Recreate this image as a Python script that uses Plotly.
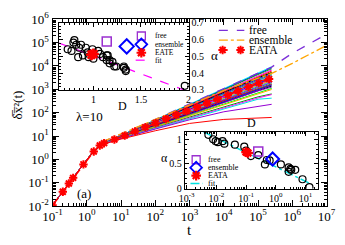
import plotly.graph_objects as go

# ---------------- main panel data ----------------
t_early = [0.1, 0.2, 0.3, 0.5, 0.8, 1.2, 1.7, 2.3]
msd_early = [0.011, 0.044, 0.098, 0.27, 0.63, 1.35, 2.3, 3.6]

t_late = [3, 10, 100, 1e3, 1e4, 1e5, 2.5e5]
traj_values = [
    [5.0, 10.7, 50, 235, 1100, 5100, 9300],
    [4.9, 10.5, 48, 220, 1000, 4700, 8400],
    [4.8, 10.4, 46, 210, 950, 4300, 7600],
    [4.8, 10.4, 45, 198, 863, 3770, 6760],
    [4.8, 10.2, 44, 190, 800, 3400, 6000],
    [4.8, 10.1, 42, 176, 733, 3050, 5400],
    [4.7, 10.0, 41, 180, 760, 3100, 5200],
    [4.8, 10.0, 40, 165, 680, 2750, 4800],
    [4.8, 9.9, 39, 157, 624, 2480, 4300],
    [4.7, 9.7, 38, 160, 640, 2400, 4000],
    [4.8, 9.8, 38, 148, 575, 2250, 3850],
    [4.8, 9.6, 37, 139, 530, 2010, 3430],
    [4.7, 9.5, 36, 142, 560, 2100, 3300],
    [4.8, 9.5, 35, 131, 490, 1820, 3050],
    [4.8, 9.4, 34, 124, 451, 1640, 2730],
    [4.7, 9.3, 34, 128, 470, 1600, 2600],
    [4.8, 9.3, 33, 117, 415, 1480, 2450],
    [4.8, 9.2, 32, 110, 383, 1330, 2180],
    [4.7, 9.1, 31, 112, 400, 1380, 2100],
    [4.8, 9.1, 31, 104, 352, 1200, 1950],
    [4.8, 9.0, 30, 98, 326, 1080, 1740],
    [4.7, 9.0, 30, 102, 330, 1050, 1600],
    [4.8, 8.9, 29, 93, 300, 970, 1550],
    [4.8, 8.8, 28, 88, 277, 877, 1387],
    [4.7, 8.7, 27, 85, 275, 860, 1250],
    [4.8, 8.6, 26, 78, 235, 700, 1100],
    [4.8, 8.5, 25, 74, 217, 641, 986],
    [4.7, 8.3, 23, 65, 180, 480, 640],
    [4.7, 8.2, 22, 60, 165, 430, 600],
    [4.6, 8.0, 21, 55, 150, 380, 420],
    [4.6, 8.0, 20, 50, 110, 190, 230],
    [4.5, 7.5, 17, 35, 52, 60, 63],
]
traj_colors = [
    "#00ffff", "#0000ff", "#00c000", "#ff00ff", "#ff0000", "#ffa500", "#000000",
    "#0000ff", "#00ff00", "#9400d3", "#00ffff", "#bc8f8f", "#ff0000", "#0000ff",
    "#008b00", "#ff00ff", "#ffa500", "#8b0000", "#40e0d0", "#7200ff", "#00c000",
    "#ff0000", "#0000ff", "#000000", "#9400d3", "#00ff00", "#ffa500", "#00a000",
    "#ff00ff", "#00e5e5", "#9400d3", "#ff0000",
]

t_eata = [0.1, 0.2, 0.3, 0.4, 0.8, 1.6, 2.4, 3.2, 6.4, 12.8, 25.6, 51.2, 102.4,
          204.8, 409.6, 819.2, 1638.4, 3276.8, 6553.6, 13107, 26214, 52429,
          104858, 209715]
msd_eata = [0.011, 0.042, 0.094, 0.165, 0.62, 2.2, 4.0, 5.0, 7.2, 10.5, 16, 24,
            36, 54, 80, 118, 175, 260, 385, 570, 850, 1250, 1850, 2750]

t_free = [2.7, 10, 100, 1e3, 1e4, 1e5, 2.5e5, 1e6, 1e7]
msd_free = [5.5, 12, 52, 240, 1150, 5000, 9000, 35000, 230000]
t_ens = [2.7, 10, 100, 1e3, 1e4, 1e5, 2.5e5, 1e6, 1e7]
msd_ens = [5.5, 12.5, 54, 230, 900, 3000, 4800, 13000, 76000]

# ---------------- inset 1 (alpha vs D) ----------------
D_circ = [0.80, 0.79, 0.82, 0.73, 0.77, 0.85, 0.87, 0.92, 0.99, 0.94, 0.84, 0.89,
          0.95, 1.00, 1.05, 1.07, 1.10, 1.15, 1.14, 1.20, 1.22, 1.17, 1.32, 1.34,
          1.14, 1.17, 1.24, 1.32, 1.34, 1.96]
a_circ = [0.598, 0.583, 0.57, 0.543, 0.533, 0.552, 0.57, 0.552, 0.543, 0.524,
          0.496, 0.506, 0.496, 0.487, 0.533, 0.515, 0.496, 0.506, 0.478, 0.468,
          0.44, 0.459, 0.432, 0.422, 0.506, 0.478, 0.44, 0.44, 0.413, 0.325]
D_free1, a_free1 = [1.14], [0.59]
D_ens1, a_ens1 = [1.35], [0.56]
D_eate1, a_eate1 = [0.98, 1.0], [0.51, 0.515]
D_fit1, a_fit1 = [0.64, 1.95], [0.58, 0.30]

# ---------------- inset 2 (alpha vs K) ----------------
K_circ = [0.0054, 0.0078, 0.0095, 0.0112, 0.0162, 0.0186, 0.042, 0.087, 0.10,
          0.145, 0.257, 0.50, 0.43, 0.62, 1.48, 2.7, 3.1, 2.7, 3.3, 4.5, 7.9, 13.5]
a2_circ = [1.09, 1.0, 0.96, 0.94, 0.96, 0.91, 0.89, 0.85, 0.77, 0.66, 0.68, 0.58,
           0.49, 0.57, 0.49, 0.43, 0.40, 0.34, 0.38, 0.38, 0.19, 0.03]
K_free2, a_free2 = [0.257], [0.75]
K_ens2, a_ens2 = [0.78], [0.60]
K_eata2, a_eata2 = [0.10, 0.115], [0.74, 0.72]
K_fit2, a_fit2 = [0.0037, 14.5], [1.15, 0.10]

# ---------------- figure ----------------
W, H = 345, 245
SERIF = "Liberation Serif"
fig = go.Figure()

for vals, col in zip(traj_values, traj_colors):
    fig.add_trace(go.Scatter(x=t_early + t_late, y=msd_early + vals, mode="lines",
                             line=dict(color=col, width=1), xaxis="x", yaxis="y",
                             showlegend=False, hoverinfo="skip"))

fig.add_trace(go.Scatter(x=t_free, y=msd_free, mode="lines",
                         line=dict(color="#7b2fd8", width=1.3, dash="dash"),
                         xaxis="x", yaxis="y", showlegend=False))
fig.add_trace(go.Scatter(x=t_ens, y=msd_ens, mode="lines",
                         line=dict(color="#ffa500", width=1.3, dash="dashdot"),
                         xaxis="x", yaxis="y", showlegend=False))
fig.add_trace(go.Scatter(x=t_eata, y=msd_eata, mode="lines+markers",
                         line=dict(color="#ff0000", width=1.6, dash="dash"),
                         marker=dict(symbol="asterisk-open", size=7, color="#ff0000",
                                     line=dict(color="#ff0000", width=2)),
                         xaxis="x", yaxis="y", showlegend=False))

# inset 1
fig.add_trace(go.Scatter(x=D_fit1, y=a_fit1, mode="lines",
                         line=dict(color="#ff00ff", width=1.2, dash="dash"),
                         xaxis="x2", yaxis="y2", showlegend=False))
fig.add_trace(go.Scatter(x=D_circ, y=a_circ, mode="markers",
                         marker=dict(symbol="circle-open", size=7, color="black",
                                     line=dict(width=1.2)),
                         xaxis="x2", yaxis="y2", showlegend=False))
fig.add_trace(go.Scatter(x=D_free1, y=a_free1, mode="markers",
                         marker=dict(symbol="square-open", size=9, color="#9b30d0",
                                     line=dict(width=1.5)),
                         xaxis="x2", yaxis="y2", showlegend=False))
fig.add_trace(go.Scatter(x=D_ens1, y=a_ens1, mode="markers",
                         marker=dict(symbol="diamond-open", size=11, color="#0000ff",
                                     line=dict(width=2)),
                         xaxis="x2", yaxis="y2", showlegend=False))
fig.add_trace(go.Scatter(x=D_eate1, y=a_eate1, mode="markers",
                         marker=dict(symbol="asterisk-open", size=9, color="#ff0000",
                                     line=dict(color="#ff0000", width=2.5)),
                         xaxis="x2", yaxis="y2", showlegend=False))

# inset 2
fig.add_trace(go.Scatter(x=K_fit2, y=a_fit2, mode="lines",
                         line=dict(color="#00e0e0", width=1.5, dash="dashdot"),
                         xaxis="x3", yaxis="y3", showlegend=False))
fig.add_trace(go.Scatter(x=K_circ, y=a2_circ, mode="markers",
                         marker=dict(symbol="circle-open", size=7, color="black",
                                     line=dict(width=1.2)),
                         xaxis="x3", yaxis="y3", showlegend=False))
fig.add_trace(go.Scatter(x=K_free2, y=a_free2, mode="markers",
                         marker=dict(symbol="square-open", size=9, color="#9b30d0",
                                     line=dict(width=1.5)),
                         xaxis="x3", yaxis="y3", showlegend=False))
fig.add_trace(go.Scatter(x=K_ens2, y=a_ens2, mode="markers",
                         marker=dict(symbol="diamond-open", size=10, color="#0000ff",
                                     line=dict(width=2)),
                         xaxis="x3", yaxis="y3", showlegend=False))
fig.add_trace(go.Scatter(x=K_eata2, y=a_eata2, mode="markers",
                         marker=dict(symbol="asterisk-open", size=8, color="#ff0000",
                                     line=dict(color="#ff0000", width=2.5)),
                         xaxis="x3", yaxis="y3", showlegend=False))

# ---------------- hand-made legends on a pixel overlay ----------------
def key_line(x0, x1, y, color, dash, width=1.3):
    fig.add_trace(go.Scatter(x=[x0, x1], y=[y, y], mode="lines",
                             line=dict(color=color, dash=dash, width=width),
                             xaxis="x4", yaxis="y4", showlegend=False))

def key_marker(x, y, symbol, color, size, lw):
    fig.add_trace(go.Scatter(x=[x], y=[y], mode="markers",
                             marker=dict(symbol=symbol, size=size, color=color,
                                         line=dict(color=color, width=lw)),
                             xaxis="x4", yaxis="y4", showlegend=False))

annotations = []
def label(x, y, text, size, anchor="left", font=SERIF, angle=0):
    annotations.append(dict(x=x / W, y=1 - y / H, xref="paper", yref="paper",
                            text=text, showarrow=False, xanchor=anchor,
                            yanchor="middle", textangle=angle, borderpad=0,
                            font=dict(family=font, size=size, color="black")))

# main legend
key_line(221, 248, 23, "#7b2fd8", "dash")
key_line(221, 248, 33.5, "#ffa500", "dashdot")
key_line(221, 248, 44, "#ff0000", "dash", 1.6)
key_marker(225, 44, "asterisk-open", "#ff0000", 7, 2)
key_marker(244, 44, "asterisk-open", "#ff0000", 7, 2)
label(252, 23, "free", 11.5)
label(252, 33.5, "ensemble", 11.5)
label(252, 44, "EATA", 11.5)

# inset 1 legend
key_marker(139, 29, "square-open", "#9b30d0", 8, 1.3)
key_marker(139, 38, "diamond-open", "#0000ff", 9, 1.8)
key_marker(139, 47, "asterisk-open", "#ff0000", 8, 2.2)
key_line(133, 146, 55, "#ff00ff", "dash", 1.2)
label(152, 29, "free", 7.5)
label(152, 38, "ensemble", 7.5)
label(152, 47, "EATE", 7.5)
label(152, 55, "fit", 7.5)

# inset 2 legend
key_marker(197, 162, "square-open", "#9b30d0", 8, 1.3)
key_marker(197, 170.5, "diamond-open", "#0000ff", 9, 1.8)
key_marker(197, 179, "asterisk-open", "#ff0000", 8, 2.2)
key_line(191, 204, 187.5, "#00e0e0", "dashdot", 1.5)
label(208, 162, "free", 8)
label(208, 170.5, "ensemble", 8)
label(208, 179, "EATA", 8)
label(208, 187.5, "fit", 8)

# texts
label(84, 115, "λ=10", 13, "center")
label(78, 198, "(a)", 13, "center")
label(190, 238, "t", 15, "center")
label(119, 104, "D", 12, "center")
label(256, 122, "D", 12, "center")
label(216, 50, "α", 13, "center")
label(164, 160, "α", 12, "center")
label(8, 103, "δ̅x̅²(t)", 13, "center", angle=-90)

# ---------------- axes ----------------
def sup(e):
    return "10<sup>%d</sup>" % e

main_x_ticks = list(range(-1, 8))
main_y_ticks = list(range(-2, 7))
minor_x = [m * 10 ** e for e in range(-1, 7) for m in range(2, 10)]
minor_y = [m * 10 ** e for e in range(-2, 6) for m in range(2, 10)]
inset2_ticks = list(range(-3, 2))
minor_k = [m * 10 ** e for e in range(-4, 2) for m in range(2, 10)]

common = dict(showgrid=False, zeroline=False, showline=True, linecolor="black",
              linewidth=1, mirror="allticks", ticks="inside", tickcolor="black")

fig.update_layout(
    width=W, height=H, margin=dict(l=0, r=0, t=0, b=0),
    paper_bgcolor="white", plot_bgcolor="rgba(0,0,0,0)",
    showlegend=False, annotations=annotations,
    font=dict(family=SERIF, color="black"),
    xaxis=dict(type="log", range=[-1, 7], domain=[45 / W, 335 / W], anchor="y",
               tickvals=[10 ** e for e in main_x_ticks],
               ticktext=[sup(e) for e in main_x_ticks], ticklen=6,
               tickfont=dict(size=13), ticklabelstandoff=-2,
               minor=dict(ticks="inside", ticklen=3, tickcolor="black",
                          tickvals=minor_x, showgrid=False), **common),
    yaxis=dict(type="log", range=[-2, 6], domain=[1 - 212 / H, 1 - 11 / H],
               anchor="x", tickvals=[10 ** e for e in main_y_ticks],
               ticktext=[sup(e) for e in main_y_ticks], ticklen=6,
               tickfont=dict(size=13),
               minor=dict(ticks="inside", ticklen=3, tickcolor="black",
                          tickvals=minor_y, showgrid=False), **common),
    xaxis2=dict(range=[0.64, 2.0], domain=[52 / W, 189 / W], anchor="y2",
                tickvals=[1, 1.5, 2], ticktext=["1", "1.5", "2"], ticklen=4,
                tickfont=dict(size=10),
                minor=dict(ticks="inside", ticklen=2, dtick=0.05, tickcolor="black"),
                **common),
    yaxis2=dict(range=[0.3, 0.7], domain=[1 - 87 / H, 1 - 15 / H], anchor="x2",
                side="right", tickvals=[0.3, 0.4, 0.5, 0.6, 0.7], ticklen=4,
                tickfont=dict(size=10),
                minor=dict(ticks="inside", ticklen=2, dtick=0.02, tickcolor="black"),
                **common),
    xaxis3=dict(type="log", range=[-3.06, 1.42], domain=[185 / W, 326 / W],
                anchor="y3", tickvals=[10 ** e for e in inset2_ticks],
                ticktext=[sup(e) for e in inset2_ticks], ticklen=4,
                tickfont=dict(size=10),
                minor=dict(ticks="inside", ticklen=2, tickcolor="black",
                           tickvals=minor_k, showgrid=False), **common),
    yaxis3=dict(range=[0, 1.15], domain=[1 - 193 / H, 1 - 132 / H], anchor="x3",
                tickvals=[0, 0.5, 1], ticktext=["0", "0.5", "1"], ticklen=4,
                tickfont=dict(size=10),
                minor=dict(ticks="inside", ticklen=2, dtick=0.1, tickcolor="black"),
                **common),
    xaxis4=dict(range=[0, W], domain=[0, 1], anchor="y4", visible=False,
                fixedrange=True),
    yaxis4=dict(range=[H, 0], domain=[0, 1], anchor="x4", visible=False,
                fixedrange=True),
)

fig.write_html("out.html", config={"displayModeBar": False},
               post_script="document.body.style.margin='0px';")
